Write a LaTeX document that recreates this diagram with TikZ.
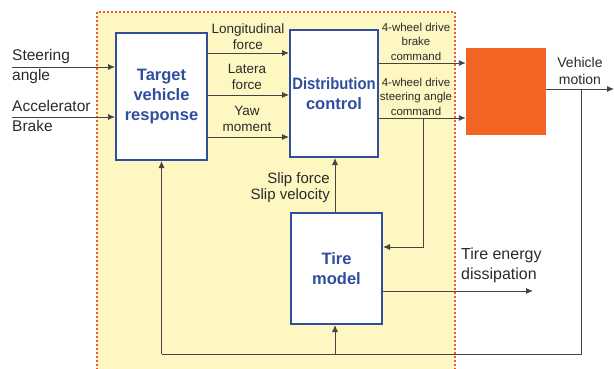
\documentclass[tikz,border=0pt]{standalone}
\usepackage{fontspec}
\setmainfont{Liberation Sans}
\usetikzlibrary{arrows.meta}
\definecolor{yel}{HTML}{FFF7C2}
\definecolor{blu}{HTML}{2F4E9E}
\definecolor{org}{HTML}{F26522}
\definecolor{dsh}{HTML}{F15A29}
\definecolor{ln}{HTML}{444444}
\definecolor{tx}{HTML}{2A2A2A}
\tikzset{
  blk/.style={draw=blu,line width=2pt,fill=white,text=blu,font=\bfseries\fontsize{16.5}{20}\selectfont,align=center,inner sep=0pt},
  arr/.style={draw=ln,line width=0.9pt,-{Latex[length=7pt,width=6pt]}},
  ln/.style={draw=ln,line width=0.9pt},
  lbl/.style={text=tx,font=\fontsize{15.5}{20}\selectfont,align=left,inner sep=0pt},
  sml/.style={text=tx,font=\fontsize{13.5}{16}\selectfont,align=center,inner sep=0pt},
  xs/.style={text=tx,font=\fontsize{11.5}{14.5}\selectfont,align=center,inner sep=0pt}
}
\begin{document}
\begin{tikzpicture}[x=1pt,y=-1pt]
\useasboundingbox (0,0) rectangle (614,369);
\begin{scope}
\clip (0,0) rectangle (614,369);
\draw[dsh,fill=yel,line width=1.8pt,dash pattern=on 2pt off 2pt] (97,12) rectangle (455,380);
\end{scope}
\node[blk,minimum width=91pt,minimum height=127pt] (tvr) at (161.5,96.5) {Target\\vehicle\\response};
\node[blk,minimum width=88pt,minimum height=127pt] (dc) at (334,93.5) {\scalebox{0.9}[1]{Distribution}\\control};
\node[blk,minimum width=91pt,minimum height=111pt] (tire) at (336.5,268.5) {Tire\\model};
\node[fill=org,minimum width=80pt,minimum height=87pt,inner sep=0pt] (ob) at (506,91.5) {};
% inputs
\coordinate (sa) at (12,67);
\coordinate (ab) at (12,117);
\draw[arr] (sa) -- (sa -| tvr.west);
\draw[arr] (ab) -- (ab -| tvr.west);
\node[lbl,anchor=west] (t1) at (12,56) {Steering};
\node[lbl,anchor=west] (t2) at (12,76) {angle};
\node[lbl,anchor=west] (t3) at (12,106) {Accelerator};
\node[lbl,anchor=west] (t4) at (12,126) {Brake};
% tvr -> dc
\draw[arr] (tvr.east |- 0,53) -- (dc.west |- 0,53);
\draw[arr] (tvr.east |- 0,95) -- (dc.west |- 0,95);
\draw[arr] (tvr.east |- 0,137) -- (dc.west |- 0,137);
\node[sml] (l1) at (248,37) {Longitudinal\\force};
\node[sml] (l2) at (247,76.5) {Latera\\force};
\node[sml] (l3) at (247,119) {Yaw\\moment};
% dc -> orange
\draw[arr] (dc.east |- 0,63) -- (ob.west |- 0,63);
\draw[arr] (dc.east |- 0,118) -- (ob.west |- 0,118);
\node[xs] (c1) at (416,41.5) {4-wheel drive\\brake\\command};
\node[xs] (c2) at (416,96.5) {4-wheel drive\\steering angle\\command};
\coordinate (br) at (423,118);
\draw[arr] (br) |- (tire.east |- 0,247);
% tire -> dc
\draw[arr] (tire.north -| 335,0) -- (dc.south -| 335,0);
\node[lbl,align=right,anchor=east,font=\fontsize{15}{16}\selectfont] (sf) at (330,187.5) {Slip force\\Slip velocity};
% tire energy
\coordinate (te) at (533,291);
\draw[arr] (tire.east |- te) -- (te);
\node[lbl,anchor=west,font=\fontsize{16}{20}\selectfont] (tl) at (461,265) {Tire energy\\dissipation};
% vehicle motion
\coordinate (vm) at (614,89);
\draw[arr] (ob.east |- vm) -- (vm);
\node[sml,font=\fontsize{14}{17}\selectfont] (vl) at (580,70.5) {Vehicle\\motion};
% feedback
\coordinate (j1) at (581,89);
\coordinate (j2) at (581,354);
\coordinate (j4) at (tvr.south |- j2);
\coordinate (j3) at (335,354);
\draw[ln] (j1) -- (j2) -- (j4);
\draw[arr] (j4) -- (tvr.south);
\draw[arr] (j3) -- (tire.south -| j3);
\end{tikzpicture}
\end{document}
